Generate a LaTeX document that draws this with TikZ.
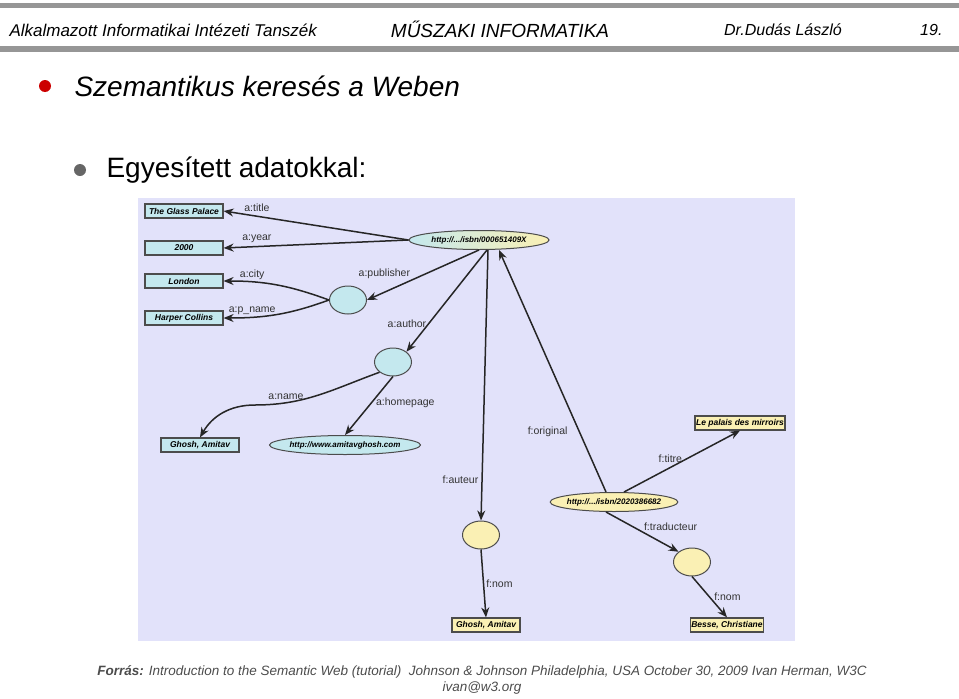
\documentclass[tikz,border=0pt]{standalone}
\usepackage{fontspec}
\setmainfont{Liberation Sans}
\usetikzlibrary{arrows.meta}
\definecolor{panel}{RGB}{226,226,250}
\definecolor{bluefill}{RGB}{196,232,238}
\definecolor{yelfill}{RGB}{250,240,180}
\definecolor{bar}{RGB}{150,150,150}
\tikzset{
  litbox/.style={draw=black!70, line width=1.2pt, minimum width=#1, minimum height=14pt, inner sep=1pt, font=\fontsize{8.5}{9}\selectfont\bfseries\itshape},
  bluebox/.style={litbox=#1, fill=bluefill},
  yelbox/.style={litbox=#1, fill=yelfill},
  res/.style={ellipse, draw=black!70, line width=1pt, inner sep=-2pt, minimum width=#1, minimum height=19pt, font=\fontsize{8}{9}\selectfont\bfseries\itshape},
  blank/.style={ellipse, draw=black!70, line width=1pt, minimum width=37pt, minimum height=28pt},
  rel/.style={-{Stealth[length=10pt,width=8pt]}, line width=1.5pt, black!85},
  lbl/.style={font=\fontsize{10.5}{11}\selectfont, text=black!80, inner sep=1pt}
}
\usetikzlibrary{shapes.geometric}
\begin{document}
\begin{tikzpicture}[x=1pt,y=-1pt]
\useasboundingbox (0,0) rectangle (959,699);
% header
\fill[bar] (0,3) rectangle (959,8);
\fill[bar] (0,46) rectangle (959,52);
\node[anchor=west, font=\fontsize{17}{19}\selectfont\itshape] (dept) at (6,30) {Alkalmazott Informatikai Intézeti Tanszék};
\node[font=\fontsize{19}{21}\selectfont\itshape] (course) at (500,29) {MŰSZAKI INFORMATIKA};
\node[font=\fontsize{16}{18}\selectfont\itshape] (author) at (783,30) {Dr.Dudás László};
\node[anchor=east, font=\fontsize{16}{18}\selectfont\itshape] (page) at (946,30) {19.};
% titles
\fill[red!80!black] (45,86) circle (6pt);
\node[anchor=west, font=\fontsize{28}{32}\selectfont\itshape] (title) at (71,86) {Szemantikus keresés a Weben};
\fill[black!60] (80,170) circle (6pt);
\node[anchor=west, font=\fontsize{28}{32}\selectfont] (sub) at (103,170) {Egyesített adatokkal:};
% panel
\fill[panel] (138,198) rectangle (795,641);

\node[bluebox=78pt] (glass) at (184,211) {The Glass Palace};
\node[bluebox=78pt] (year) at (184,248) {2000};
\node[bluebox=78pt] (london) at (184,281) {London};
\node[bluebox=78pt] (harper) at (184,318) {Harper Collins};
\node[res=140pt, left color=bluefill, right color=yelfill] (isbnA) at (479,240) {http://.../isbn/000651409X};
\node[blank, fill=bluefill] (pub) at (348,300) {};
\node[blank, fill=bluefill] (auth) at (393,362) {};
\node[bluebox=78pt] (ghoshA) at (200,445) {Ghosh, Amitav};
\node[res=140pt, fill=bluefill] (home) at (345,445) {http://www.amitavghosh.com};
\node[blank, fill=yelfill] (fauth) at (481,535) {};
\node[yelbox=68pt] (ghoshB) at (486,625) {Ghosh, Amitav};
\node[res=125pt, fill=yelfill] (isbnB) at (614,502) {http://.../isbn/2020386682};
\node[yelbox=85pt] (palais) at (740,423) {Le palais des mirroirs};
\node[blank, fill=yelfill] (trad) at (692,562) {};
\node[yelbox=68pt] (besse) at (727,625) {Besse, Christiane};

\draw[rel] (isbnA.west) -- node[lbl, pos=0.82, above=3pt] {a:title} (glass.east);
\draw[rel] (isbnA.west) -- node[lbl, pos=0.82, above=2pt] {a:year} (year.east);
\draw[rel] (isbnA.south) -- node[lbl, pos=0.6, above left=0pt] {a:publisher} (pub.east);
\draw[rel] (pub.west) to[out=160, in=0] node[lbl, pos=0.75, above=1pt] {a:city} (london.east);
\draw[rel] (pub.west) to[out=200, in=0] node[lbl, pos=0.75, above=1pt] {a:p\_name} (harper.east);
\draw[rel] ([xshift=8pt]isbnA.south) -- node[lbl, pos=0.72, left=1pt] {a:author} (auth.north east);
\draw[rel] (auth.south west) to[out=200, in=0] (255,405) to[out=180, in=60] (ghoshA.north);
\node[lbl] (namelbl) at (286,397) {a:name};
\draw[rel] (auth.south) -- node[lbl, pos=0.45, right=3pt] {a:homepage} (home.north);
\draw[rel] ([xshift=9pt]isbnA.south) -- node[lbl, pos=0.85, left=2pt] {f:auteur} (fauth.north);
\draw[rel] ([xshift=-8pt]isbnB.north) -- node[lbl, pos=0.25, left=10pt] {f:original} ([xshift=20pt]isbnA.south);
\draw[rel] ([xshift=10pt]isbnB.north) -- node[lbl, pos=0.4, above=3pt] {f:titre} (palais.south);
\draw[rel] (fauth.south) -- node[lbl, pos=0.5, right=1pt] {f:nom} (ghoshB.north);
\draw[rel] ([xshift=-8pt]isbnB.south) -- node[lbl, pos=0.5, above right=0pt] {f:traducteur} (trad.north west);
\draw[rel] (trad.south) -- node[lbl, pos=0.5, right=3pt] {f:nom} (besse.north);

% footer
\node[font=\fontsize{13.5}{16}\selectfont\itshape, text=black!70, align=center] (src) at (482,680) {\textbf{Forrás:} Introduction to the Semantic Web (tutorial)\ \ Johnson \& Johnson Philadelphia, USA October 30, 2009 Ivan Herman, W3C\\ ivan@w3.org};
\end{tikzpicture}
\end{document}
